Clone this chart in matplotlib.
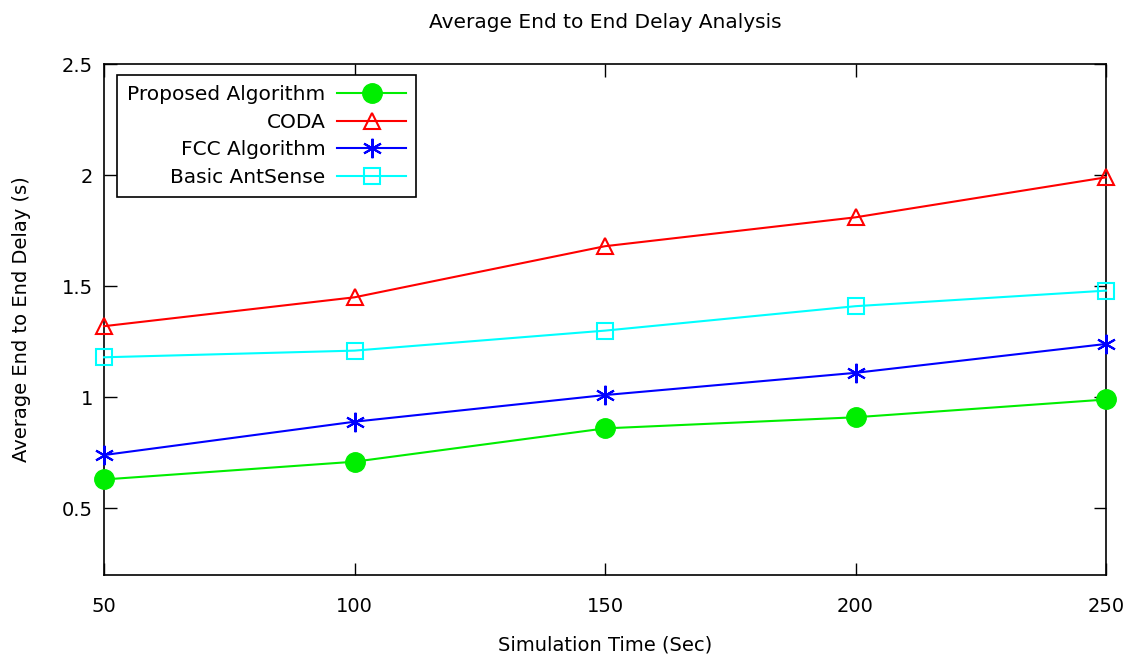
import matplotlib
matplotlib.use("Agg")
import matplotlib.pyplot as plt

sim_time = [50, 100, 150, 200, 250]
proposed = [0.63, 0.71, 0.86, 0.91, 0.99]
coda = [1.32, 1.45, 1.68, 1.81, 1.99]
fcc = [0.74, 0.89, 1.01, 1.11, 1.24]
antsense = [1.18, 1.21, 1.30, 1.41, 1.48]

plt.rcParams['font.family'] = ['DejaVu Sans']

fig = plt.figure(figsize=(11.38, 6.62), dpi=100)
ax = fig.add_axes([0.0914, 0.1314, 0.9719 - 0.0914, 0.9033 - 0.1314])

ax.plot(sim_time, proposed, color='#00ee00', lw=1.5, marker='o', ms=14,
        label='Proposed Algorithm', clip_on=False, zorder=3)
ax.plot(sim_time, coda, color='#ff0000', lw=1.5, marker='^', ms=12,
        mfc='none', mew=1.5, label='CODA', clip_on=False, zorder=3)
ax.plot(sim_time, fcc, color='#0000ff', lw=1.5, marker=(6, 2, 0), ms=14,
        mew=1.5, label='FCC Algorithm', clip_on=False, zorder=3)
ax.plot(sim_time, antsense, color='#00ffff', lw=1.5, marker='s', ms=12,
        mfc='none', mew=1.5, label='Basic AntSense', clip_on=False, zorder=3)

ax.set_xlim(50, 250)
ax.set_ylim(0.2, 2.5)
ax.set_xticks(sim_time)
ax.set_yticks([0.5, 1, 1.5, 2, 2.5])
ax.set_yticklabels(['0.5', '1', '1.5', '2', '2.5'])
ax.tick_params(direction='in', length=9, width=1, top=True, right=True,
               labelsize=14, pad=8)
ax.tick_params(axis='x', pad=16)
for s in ax.spines.values():
    s.set_linewidth(1.2)

ax.set_title('Average End to End Delay Analysis', fontsize=14.5, pad=26)
ax.set_xlabel('Simulation Time (Sec)', fontsize=14, labelpad=14)
ax.set_ylabel('Average End to End Delay (s)', fontsize=14, labelpad=22)

leg = ax.legend(loc='upper left', bbox_to_anchor=(0.013, 0.978), markerfirst=False,
                fontsize=14.5, fancybox=False, edgecolor='black', framealpha=1,
                handlelength=3.4, labelspacing=0.42, borderpad=0.5,
                handletextpad=0.6, borderaxespad=0)
leg.get_frame().set_linewidth(1.2)

fig.savefig('out.png', dpi=100)
